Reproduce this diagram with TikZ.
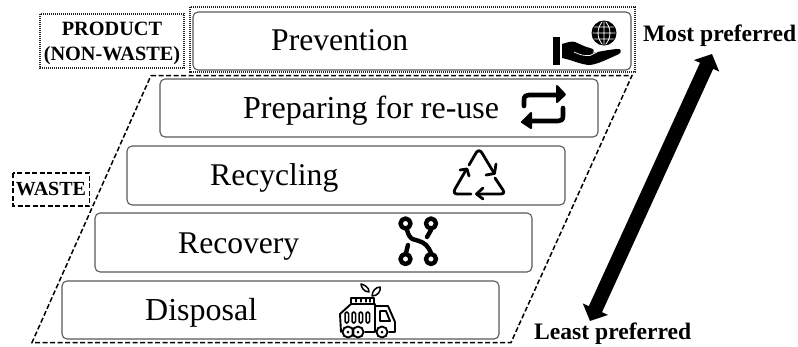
\documentclass[tikz,border=0pt]{standalone}
\usepackage{fontspec}
\setmainfont{Liberation Serif}
\usetikzlibrary{arrows.meta}
\tikzset{
  tier/.style={draw=black!65,line width=1.1pt,rounded corners=5pt,fill=white},
  tierlabel/.style={anchor=base west,inner sep=0pt,font=\fontsize{31.6}{34}\selectfont,text=black},
  sidelabel/.style={inner sep=0pt,align=center,font=\bfseries\fontsize{20.3}{25}\selectfont},
  preflabel/.style={inner sep=0pt,anchor=base west,font=\bfseries\fontsize{23.6}{26}\selectfont},
  dots/.style={draw=black!85,line width=1.7pt,dash pattern=on 1.2pt off 0.8pt},
  dash2/.style={draw=black,line width=1.5pt,dash pattern=on 5pt off 2.5pt},
  ico/.style={draw=black,line width=4.4pt,line cap=round,line join=round},
  thin ico/.style={draw=black,line width=1.9pt,line cap=round,line join=round}
}
\begin{document}
\begin{tikzpicture}[x=1pt,y=-1pt]
\useasboundingbox (0,0) rectangle (798,346);
% waste trapezoid
\draw[dash2] (151,75.5) -- (632,75.5) -- (511,342.5) -- (32,342.5) -- cycle;
% outer product frame
\draw[dots] (190,7) rectangle (635,72);
% tiers
\path[tier] (193,12) rectangle (631,70);
\path[tier] (160,79) rectangle (598,137);
\path[tier] (127,146) rectangle (565,205);
\path[tier] (95,213) rectangle (532,272);
\path[tier] (62,281) rectangle (499,339);
\node[tierlabel] (prev) at (271,50) {Prevention};
\node[tierlabel,font=\fontsize{32}{34}\selectfont] (prep) at (243,118) {Preparing for re-use};
\node[tierlabel] (recy) at (210,185) {Recycling};
\node[tierlabel] (reco) at (178,253) {Recovery};
\node[tierlabel,font=\fontsize{32}{34}\selectfont] (disp) at (145,320) {Disposal};
% side labels
\draw[dots] (40,14) rectangle (184,68);
\node[sidelabel] (prod) at (112,43) {PRODUCT\\(NON-WASTE)};
\draw[draw=black,line width=1.3pt,dash pattern=on 5pt off 2.5pt] (13,173) rectangle (89.5,206);
\node[sidelabel,font=\bfseries\fontsize{20}{22}\selectfont] (waste) at (51,189.5) {WASTE};
\node[preflabel] (most) at (643,41) {Most preferred};
\node[preflabel] (least) at (534,339) {Least preferred};
% preference arrow
\coordinate (atop) at (712,54);
\coordinate (abot) at (590,321);
\draw[line width=14.5pt,{Triangle[length=13pt,width=27pt]}-{Triangle[length=13pt,width=27pt]}] (abot) -- (atop);
% hand + globe
\fill (553,36.5) rectangle (560,65);
\fill (562,44) .. controls (568,42) and (572,41) .. (575,42) .. controls (580,44) and (585,47) .. (590,48)
  .. controls (594,49) and (595,51) .. (592,53) .. controls (598,52) and (606,50) .. (617,49)
  .. controls (621,48) and (622,52) .. (619,54) .. controls (608,59) and (598,64) .. (590,65)
  .. controls (582,65) and (572,60) .. (562,58) -- cycle;
\draw[white,line width=0.7pt] (574,52) .. controls (580,55) and (585,56) .. (590,55.5) -- (597,52);
\fill (604,33) circle (12.5);
\begin{scope}
\clip (604,33) circle (11.5);
\draw[white,line width=0.8pt] (592,33) -- (616,33) (592,27) -- (616,27) (592,39) -- (616,39)
  (604,20) -- (604,46) (604,20) .. controls (596,27) and (596,39) .. (604,46)
  (604,20) .. controls (612,27) and (612,39) .. (604,46);
\end{scope}
% repeat icon
\draw[ico,line width=4.6pt] (524,106) -- (524,100) .. controls (524,96) and (526,95) .. (529,95) -- (558,95);
\fill[line join=round,draw=black,line width=2pt] (557,86) -- (565,94.5) -- (557,102) -- cycle;
\draw[ico,line width=4.6pt] (563,108) -- (563,116) .. controls (563,120) and (561,121) .. (558,121) -- (530,121);
\fill[line join=round,draw=black,line width=2pt] (531,113) -- (522,122) -- (531,128) -- cycle;
% recycle icon
\draw[thin ico,line width=2.8pt] (469,165) -- (476,153) .. controls (478,150) and (480,150) .. (482,153) -- (494,173);
\draw[thin ico,line width=2.8pt] (486,175) -- (494.5,173.5) -- (496,164);
\draw[thin ico,line width=2.8pt] (466,170) -- (455,189) .. controls (453,193) and (455,194) .. (458,194) -- (471,194);
\draw[thin ico,line width=2.8pt] (460,170) -- (467,169) -- (469,176);
\draw[thin ico,line width=2.8pt] (495,178) -- (503,190) .. controls (505,193) and (503,194) .. (500,194) -- (477,194);
\draw[thin ico,line width=2.8pt] (483,188) -- (476.5,194) -- (483,199);
% network icon
\draw[ico] (405.5,223.5) circle (5) (431,223.5) circle (5) (405.5,259) circle (5) (431,259) circle (5);
\draw[ico] (407,230) .. controls (410,242) and (416,239) .. (419,241) .. controls (425,243) and (428,246) .. (431,253);
\draw[ico] (431,230) -- (427,237);
\draw[ico] (406,253) -- (408,245);
% truck icon
\begin{scope}[thin ico]
\draw (341,332) -- (340,314) -- (351,304) -- (375,304) -- (375,332) -- (365,332);
\draw (351,303) -- (351,298) -- (374,298) -- (374,303);
\draw[line width=1.2pt] (356,298) -- (356,302) (361,298) -- (361,302) (366,298) -- (366,302) (370,298) -- (370,302);
\draw (375,306) -- (388,306) -- (395,322) -- (395,332) -- (389,332);
\draw (380,311) -- (386,311) -- (390,321) -- (380,321) -- cycle;
\foreach \p in {347,354,361,368}{ \draw[line width=1.5pt,rounded corners=1.5pt] (\p-2,312) rectangle (\p+1.5,323); }
\draw[fill=white] (348,332) circle (5.5) (358,332) circle (5.5) (382,332) circle (5.5);
\fill (348,332) circle (1.5) (358,332) circle (1.5) (382,332) circle (1.5);
\draw[line width=1.5pt] (361,284) .. controls (362,284) and (370,287) .. (369,292) .. controls (364,292) and (361,287) .. (361,284) -- cycle;
\draw[line width=1.5pt] (380,287) .. controls (376,287) and (372,291) .. (372,296) .. controls (378,296) and (381,291) .. (380,287) -- cycle;
\end{scope}
\end{tikzpicture}
\end{document}
